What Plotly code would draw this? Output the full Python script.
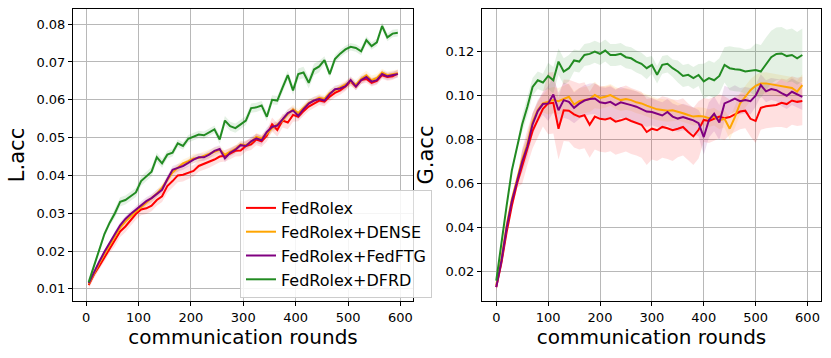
import numpy as np
import plotly.graph_objects as go

# ---- data ----
ROUNDS_L = list(range(5, 600, 10))
ROUNDS_G = list(range(0, 600, 10))

LACC_FEDROLEX = [0.011, 0.0138, 0.016, 0.0183, 0.0205, 0.0228, 0.0252, 0.0265, 0.0282, 0.0298,
                 0.031, 0.0313, 0.032, 0.0335, 0.0345, 0.0372, 0.0385, 0.04, 0.0402, 0.0408,
                 0.0412, 0.0425, 0.043, 0.0435, 0.0442, 0.045, 0.0452, 0.0458, 0.0465, 0.0466,
                 0.0478, 0.0482, 0.0495, 0.049, 0.0505, 0.0535, 0.052, 0.0545, 0.054, 0.056,
                 0.0555, 0.057, 0.0582, 0.059, 0.0598, 0.0595, 0.0608, 0.0618, 0.0625, 0.0635,
                 0.0648, 0.0635, 0.0652, 0.0655, 0.0645, 0.065, 0.0665, 0.066, 0.0662, 0.067]
LACC_DENSE = [0.0113, 0.0142, 0.0168, 0.0193, 0.0215, 0.024, 0.0262, 0.0278, 0.0292, 0.0305,
              0.0316, 0.0328, 0.0338, 0.0352, 0.0368, 0.0388, 0.0408, 0.042, 0.0432, 0.0438,
              0.0445, 0.0446, 0.0452, 0.0458, 0.0462, 0.0468, 0.0455, 0.0462, 0.047, 0.0482,
              0.048, 0.0488, 0.0502, 0.0498, 0.051, 0.0525, 0.0535, 0.0545, 0.0562, 0.0575,
              0.0565, 0.0578, 0.0592, 0.0598, 0.0605, 0.0602, 0.0618, 0.0625, 0.0632, 0.064,
              0.0648, 0.064, 0.0655, 0.0665, 0.0652, 0.0658, 0.0672, 0.0665, 0.0668, 0.067]
LACC_FEDFTG = [0.0115, 0.0145, 0.0172, 0.0198, 0.022, 0.0245, 0.0268, 0.0285, 0.0298, 0.031,
               0.0322, 0.0332, 0.034, 0.0352, 0.0362, 0.039, 0.0415, 0.042, 0.0425, 0.0433,
               0.0442, 0.0448, 0.0448, 0.0455, 0.0465, 0.047, 0.0445, 0.046, 0.0468, 0.048,
               0.0478, 0.049, 0.0498, 0.0493, 0.0515, 0.0528, 0.0532, 0.0548, 0.0565, 0.0572,
               0.0558, 0.0575, 0.059, 0.0598, 0.0602, 0.0598, 0.0615, 0.0628, 0.063, 0.0636,
               0.0652, 0.0635, 0.0652, 0.066, 0.0648, 0.0652, 0.0668, 0.0662, 0.0665, 0.0668]
LACC_DFRD = [0.0118, 0.016, 0.0205, 0.0245, 0.0275, 0.03, 0.033, 0.0335, 0.0345, 0.0355,
             0.0385, 0.0398, 0.041, 0.0448, 0.0432, 0.0455, 0.046, 0.0485, 0.0478, 0.0497,
             0.0502, 0.0508, 0.0506, 0.0515, 0.0522, 0.0495, 0.0545, 0.053, 0.0525, 0.0535,
             0.0545, 0.0578, 0.058, 0.0585, 0.0555, 0.06, 0.0598, 0.0632, 0.0665, 0.0625,
             0.0668, 0.0672, 0.0645, 0.068, 0.0688, 0.0705, 0.0668, 0.0708, 0.0722, 0.0733,
             0.074, 0.0737, 0.0728, 0.0758, 0.0742, 0.0752, 0.0795, 0.0765, 0.0775, 0.0777]

GACC_FEDROLEX = [0.013, 0.024, 0.038, 0.05, 0.06, 0.068, 0.0765, 0.084, 0.089, 0.094,
                 0.0965, 0.0968, 0.085, 0.0934, 0.0932, 0.0915, 0.0905, 0.0911, 0.0868, 0.0905,
                 0.0895, 0.0892, 0.0898, 0.0882, 0.0888, 0.0896, 0.0885, 0.0878, 0.0868, 0.0835,
                 0.085, 0.0843, 0.0858, 0.0852, 0.0843, 0.085, 0.0858, 0.0835, 0.0815, 0.0845,
                 0.089, 0.0885, 0.0895, 0.0905, 0.0898, 0.0903, 0.0915, 0.0928, 0.0932, 0.0895,
                 0.0885, 0.0945, 0.0952, 0.0955, 0.0958, 0.0968, 0.0962, 0.0978, 0.0972, 0.0976]
GACC_DENSE = [0.014, 0.026, 0.041, 0.053, 0.062, 0.071, 0.078, 0.088, 0.0935, 0.0965,
              0.0973, 0.098, 0.0975, 0.0985, 0.0995, 0.096, 0.0975, 0.098, 0.0985, 0.1003,
              0.099, 0.0995, 0.1003, 0.099, 0.098, 0.0985, 0.098, 0.097, 0.0965, 0.0955,
              0.0945, 0.0938, 0.0935, 0.0932, 0.0934, 0.0928, 0.092, 0.0912, 0.0905, 0.0908,
              0.0905, 0.0898, 0.0905, 0.0888, 0.0895, 0.085, 0.0903, 0.0965, 0.0995, 0.1025,
              0.1045, 0.1055, 0.1056, 0.1052, 0.105, 0.1045, 0.104, 0.1035, 0.1018, 0.1048]
GACC_FEDFTG = [0.013, 0.025, 0.04, 0.052, 0.061, 0.07, 0.077, 0.087, 0.093, 0.0962,
               0.0965, 0.1005, 0.0934, 0.098, 0.0972, 0.0945, 0.0964, 0.0978, 0.0985, 0.0987,
               0.097, 0.0966, 0.0972, 0.0957, 0.097, 0.0962, 0.0957, 0.095, 0.0938, 0.0928,
               0.0926, 0.0918, 0.091, 0.0926, 0.0905, 0.0896, 0.0903, 0.0895, 0.0888, 0.0875,
               0.0812, 0.089, 0.0918, 0.0878, 0.0965, 0.0975, 0.0987, 0.0975, 0.098, 0.0975,
               0.1, 0.1048, 0.102, 0.103, 0.1025, 0.1012, 0.1, 0.1018, 0.1005, 0.0995]
GACC_DFRD = [0.016, 0.034, 0.05, 0.066, 0.077, 0.087, 0.095, 0.104, 0.107, 0.106,
             0.109, 0.107, 0.1155, 0.111, 0.1125, 0.116, 0.1155, 0.1185, 0.119, 0.12,
             0.119, 0.1205, 0.1185, 0.1185, 0.119, 0.1175, 0.117, 0.1155, 0.1145, 0.1125,
             0.114, 0.1095, 0.114, 0.1145, 0.1125, 0.111, 0.109, 0.1095, 0.108, 0.1094,
             0.1065, 0.108, 0.107, 0.109, 0.114, 0.1125, 0.112, 0.1118, 0.111, 0.1115,
             0.1117, 0.111, 0.1145, 0.1175, 0.119, 0.1192, 0.118, 0.1185, 0.117, 0.1185]

# spread (half width of shaded band), one value per 50 rounds
LSPREAD_FEDROLEX = [0.001, 0.0015, 0.0015, 0.0018, 0.0015, 0.0015, 0.0015, 0.0018, 0.0012, 0.0012, 0.001, 0.001]
LSPREAD_DENSE = [0.0005, 0.0008, 0.001, 0.001, 0.0012, 0.001, 0.001, 0.0012, 0.001, 0.001, 0.0012, 0.001]
LSPREAD_FEDFTG = [0.0005, 0.0008, 0.001, 0.001, 0.001, 0.001, 0.0012, 0.001, 0.001, 0.001, 0.001, 0.001]
LSPREAD_DFRD = [0.0008, 0.0012, 0.0012, 0.001, 0.001, 0.0012, 0.0012, 0.0012, 0.0015, 0.001, 0.001, 0.001]
GSPREAD_FEDROLEX = [0.002, 0.008, 0.014, 0.015, 0.015, 0.015, 0.014, 0.013, 0.01, 0.008, 0.01, 0.011]
GSPREAD_DENSE = [0.001, 0.004, 0.006, 0.006, 0.005, 0.005, 0.005, 0.004, 0.004, 0.005, 0.005, 0.005]
GSPREAD_FEDFTG = [0.001, 0.005, 0.008, 0.007, 0.007, 0.007, 0.006, 0.006, 0.008, 0.006, 0.005, 0.006]
GSPREAD_DFRD = [0.001, 0.004, 0.006, 0.005, 0.005, 0.005, 0.004, 0.005, 0.008, 0.01, 0.012, 0.012]

METHODS = ['FedRolex', 'FedRolex+DENSE', 'FedRolex+FedFTG', 'FedRolex+DFRD']
COLORS = {
    'FedRolex': (255, 0, 0),
    'FedRolex+DENSE': (255, 165, 0),
    'FedRolex+FedFTG': (128, 0, 128),
    'FedRolex+DFRD': (34, 139, 34),
}

L_SERIES = {
    'FedRolex': (LACC_FEDROLEX, LSPREAD_FEDROLEX),
    'FedRolex+DENSE': (LACC_DENSE, LSPREAD_DENSE),
    'FedRolex+FedFTG': (LACC_FEDFTG, LSPREAD_FEDFTG),
    'FedRolex+DFRD': (LACC_DFRD, LSPREAD_DFRD),
}
G_SERIES = {
    'FedRolex': (GACC_FEDROLEX, GSPREAD_FEDROLEX),
    'FedRolex+DENSE': (GACC_DENSE, GSPREAD_DENSE),
    'FedRolex+FedFTG': (GACC_FEDFTG, GSPREAD_FEDFTG),
    'FedRolex+DFRD': (GACC_DFRD, GSPREAD_DFRD),
}

FONT = 'DejaVu Sans'


def add_panel(fig, rounds, series, xa, ya, legend):
    x = np.array(rounds)
    # shaded bands first
    for m in METHODS:
        mean, spread = series[m]
        mean = np.array(mean)
        sd = np.repeat(spread, 5)[:len(mean)]
        r, g, b = COLORS[m]
        fig.add_trace(go.Scatter(
            x=np.concatenate([x, x[::-1]]),
            y=np.concatenate([mean + sd, (mean - sd)[::-1]]),
            fill='toself', fillcolor=f'rgba({r},{g},{b},0.12)',
            line=dict(width=0), mode='lines', hoverinfo='skip',
            showlegend=False, xaxis=xa, yaxis=ya
        ))
    for m in METHODS:
        mean, _ = series[m]
        r, g, b = COLORS[m]
        fig.add_trace(go.Scatter(
            x=x, y=mean, mode='lines', name=m,
            line=dict(color=f'rgb({r},{g},{b})', width=2),
            showlegend=legend, xaxis=xa, yaxis=ya
        ))


fig = go.Figure()
add_panel(fig, ROUNDS_L, L_SERIES, 'x', 'y', True)
add_panel(fig, ROUNDS_G, G_SERIES, 'x2', 'y2', False)

W, H = 831, 358
y_dom = [(H - 301) / H, (H - 9) / H]

axis_common = dict(
    showline=True, mirror=True, linecolor='black', linewidth=1,
    showgrid=True, gridcolor='#b8b8b8', gridwidth=1,
    ticks='outside', ticklen=4, tickcolor='black',
    tickfont=dict(family=FONT, size=13, color='black'),
    zeroline=False, automargin=False,
)

fig.update_layout(
    width=W, height=H,
    margin=dict(l=0, r=0, t=0, b=0, autoexpand=False),
    plot_bgcolor='white', paper_bgcolor='white',
    font=dict(family=FONT, color='black'),
    xaxis=dict(domain=[73 / W, 413 / W], range=[-25, 624], tickvals=[0, 100, 200, 300, 400, 500, 600],
               title=dict(text='communication rounds', font=dict(size=20), standoff=4), anchor='y',
               **axis_common),
    yaxis=dict(domain=y_dom, range=[0.0068, 0.084], tickvals=[0.01, 0.02, 0.03, 0.04, 0.05, 0.06, 0.07, 0.08],
               tickformat='.2f', title=dict(text='L.acc', font=dict(size=21), standoff=6), anchor='x',
               **axis_common),
    xaxis2=dict(domain=[482 / W, 821 / W], range=[-27.5, 626], tickvals=[0, 100, 200, 300, 400, 500, 600],
                title=dict(text='communication rounds', font=dict(size=20), standoff=4), anchor='y2',
                **axis_common),
    yaxis2=dict(domain=y_dom, range=[0.0067, 0.1394], tickvals=[0.02, 0.04, 0.06, 0.08, 0.10, 0.12],
                tickformat='.2f', title=dict(text='G.acc', font=dict(size=21), standoff=6), anchor='x2',
                **axis_common),
    legend=dict(
        x=240 / W, y=(H - 298) / H, xanchor='left', yanchor='bottom',
        bgcolor='rgba(255,255,255,0.85)', bordercolor='#cccccc', borderwidth=1,
        font=dict(family=FONT, size=16, color='black'),
        tracegroupgap=0,
    ),
)

# drop the default page margin so the figure sits at the window's corner
fig.write_html("out.html", config={'displayModeBar': False},
               post_script="document.body.style.margin='0';")
